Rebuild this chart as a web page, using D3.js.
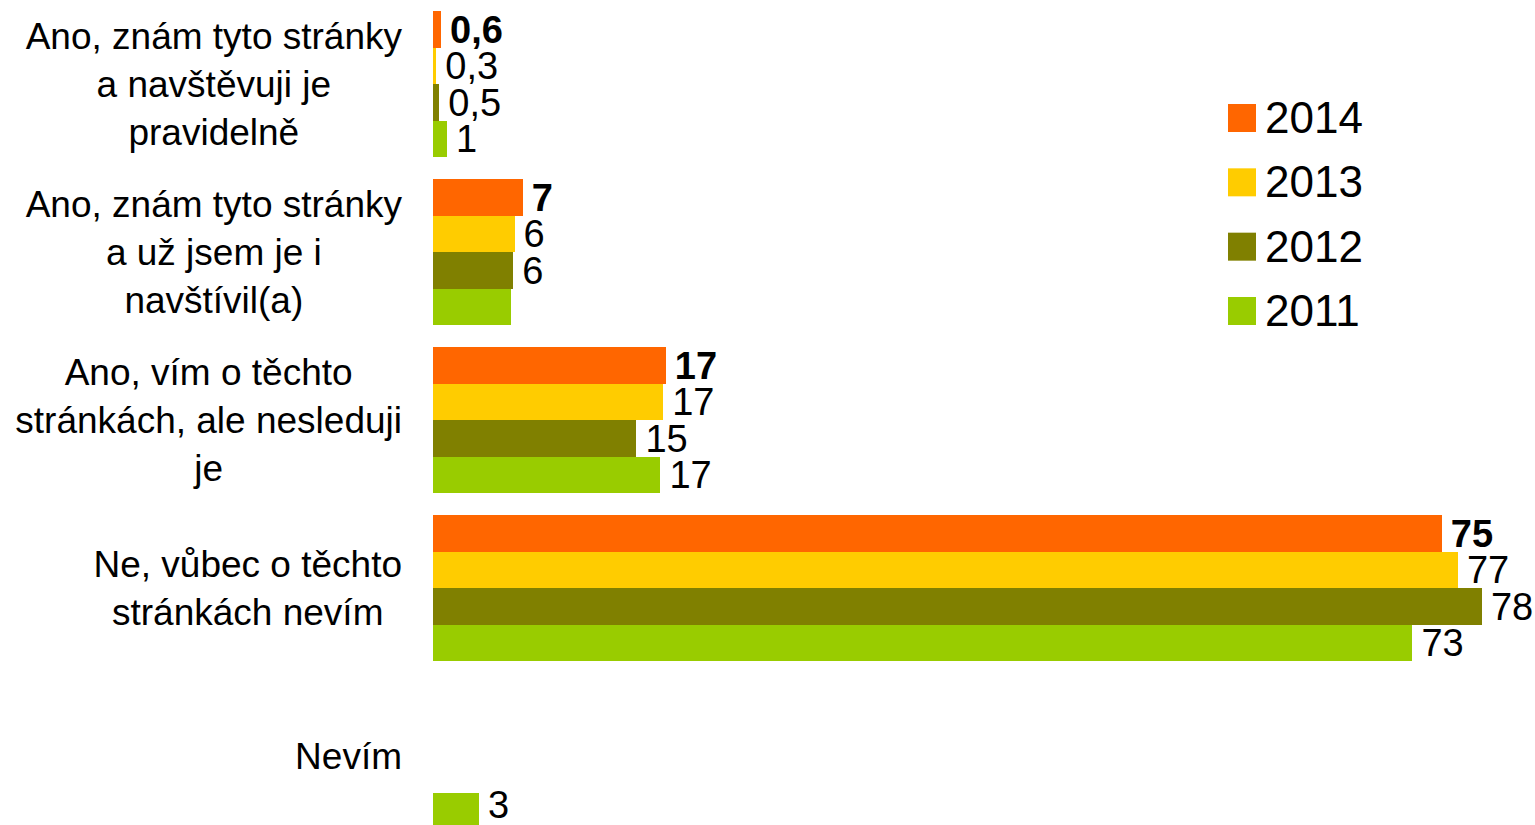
<!DOCTYPE html>
<html>
<head>
<meta charset="utf-8">
<script src="https://cdn.jsdelivr.net/npm/d3@7"></script>
<style>
  html, body { margin: 0; padding: 0; background: #fff; }
  svg { display: block; font-family: "Liberation Sans", Arial, sans-serif; }
</style>
</head>
<body>
<svg id="chart" width="1535" height="825"></svg>
<script>
// ---- data ----
const categories = [
  ["Ano, znám tyto stránky", "a navštěvuji je", "pravidelně"],
  ["Ano, znám tyto stránky", "a už jsem je i", "navštívil(a)"],
  ["Ano, vím o těchto", "stránkách, ale nesleduji", "je"],
  ["Ne, vůbec o těchto", "stránkách nevím"],
  ["Nevím"]
];
const seriesNames = ["2014", "2013", "2012", "2011"];
const seriesColors = ["#FF6600", "#FFCC00", "#808000", "#99CC00"];
const values2014 = [0.6, 6.7, 17.4, 75.4, null];
const values2013 = [0.25, 6.1, 17.2, 76.6, null];
const values2012 = [0.47, 6.0, 15.2, 78.4, null];
const values2011 = [1.05, 5.8, 17.0, 73.2, 3.44];
const labels2014 = ["0,6", "7", "17", "75", ""];
const labels2013 = ["0,3", "6", "17", "77", ""];
const labels2012 = ["0,5", "6", "15", "78", ""];
const labels2011 = ["1", "", "17", "73", "3"];

const seriesValues = [values2014, values2013, values2012, values2011];
const seriesLabels = [labels2014, labels2013, labels2012, labels2011];

// ---- layout ----
const W = 1535, H = 825;
const svg = d3.select("#chart");
const catIdx = d3.range(categories.length);

const x = d3.scaleLinear().domain([0, 100]).range([433, 433 + 1338]);
const y = d3.scaleBand().domain(catIdx).range([0, 840])
  .paddingInner(22 / 168).paddingOuter(11 / 168);
const ys = d3.scaleBand().domain(d3.range(seriesNames.length)).range([0, y.bandwidth()]);

const labelSize = 38;
// bars
seriesNames.forEach((name, si) => {
  const g = svg.append("g");
  const data = catIdx.map(ci => ({ ci, v: seriesValues[si][ci], lab: seriesLabels[si][ci] }))
    .filter(d => d.v != null);
  g.selectAll("rect").data(data).join("rect")
    .attr("x", x(0))
    .attr("y", d => y(d.ci) + ys(si))
    .attr("width", d => x(d.v) - x(0))
    .attr("height", ys.bandwidth())
    .attr("fill", seriesColors[si])
    .attr("shape-rendering", "crispEdges");
  g.selectAll("text").data(data.filter(d => d.lab !== "")).join("text")
    .attr("x", d => x(d.v) + 9)
    .attr("y", d => Math.min(y(d.ci) + ys(si) + ys.bandwidth() / 2, H - 20))
    .attr("dy", "0.35em")
    .attr("font-size", labelSize)
    .attr("font-weight", si === 0 ? "bold" : "normal")
    .attr("fill", "#000")
    .text(d => d.lab);
});

// category labels: right-aligned block, lines centered within
const rightEdge = 402;
const lineH = 48;
categories.forEach((lines, ci) => {
  const g = svg.append("g");
  const cy = y(ci) + y.bandwidth() / 2;
  const texts = lines.map((ln, li) => g.append("text")
    .attr("font-size", 37)
    .attr("fill", "#000")
    .attr("text-anchor", "middle")
    .attr("y", cy + (li - (lines.length - 1) / 2) * lineH)
    .attr("dy", "0.36em")
    .text(ln));
  const maxW = d3.max(texts, t => t.node().getComputedTextLength());
  texts.forEach(t => t.attr("x", rightEdge - maxW / 2));
});

// legend
const legend = svg.append("g");
const legY = d3.scalePoint().domain(d3.range(seriesNames.length)).range([118, 311]);
seriesNames.forEach((name, si) => {
  legend.append("rect")
    .attr("x", 1228).attr("y", legY(si) - 14)
    .attr("width", 28).attr("height", 28)
    .attr("fill", seriesColors[si]);
  legend.append("text")
    .attr("x", 1265).attr("y", legY(si) - 1)
    .attr("dy", "0.36em")
    .attr("font-size", 44)
    .attr("fill", "#000")
    .text(name);
});
</script>
</body>
</html>
